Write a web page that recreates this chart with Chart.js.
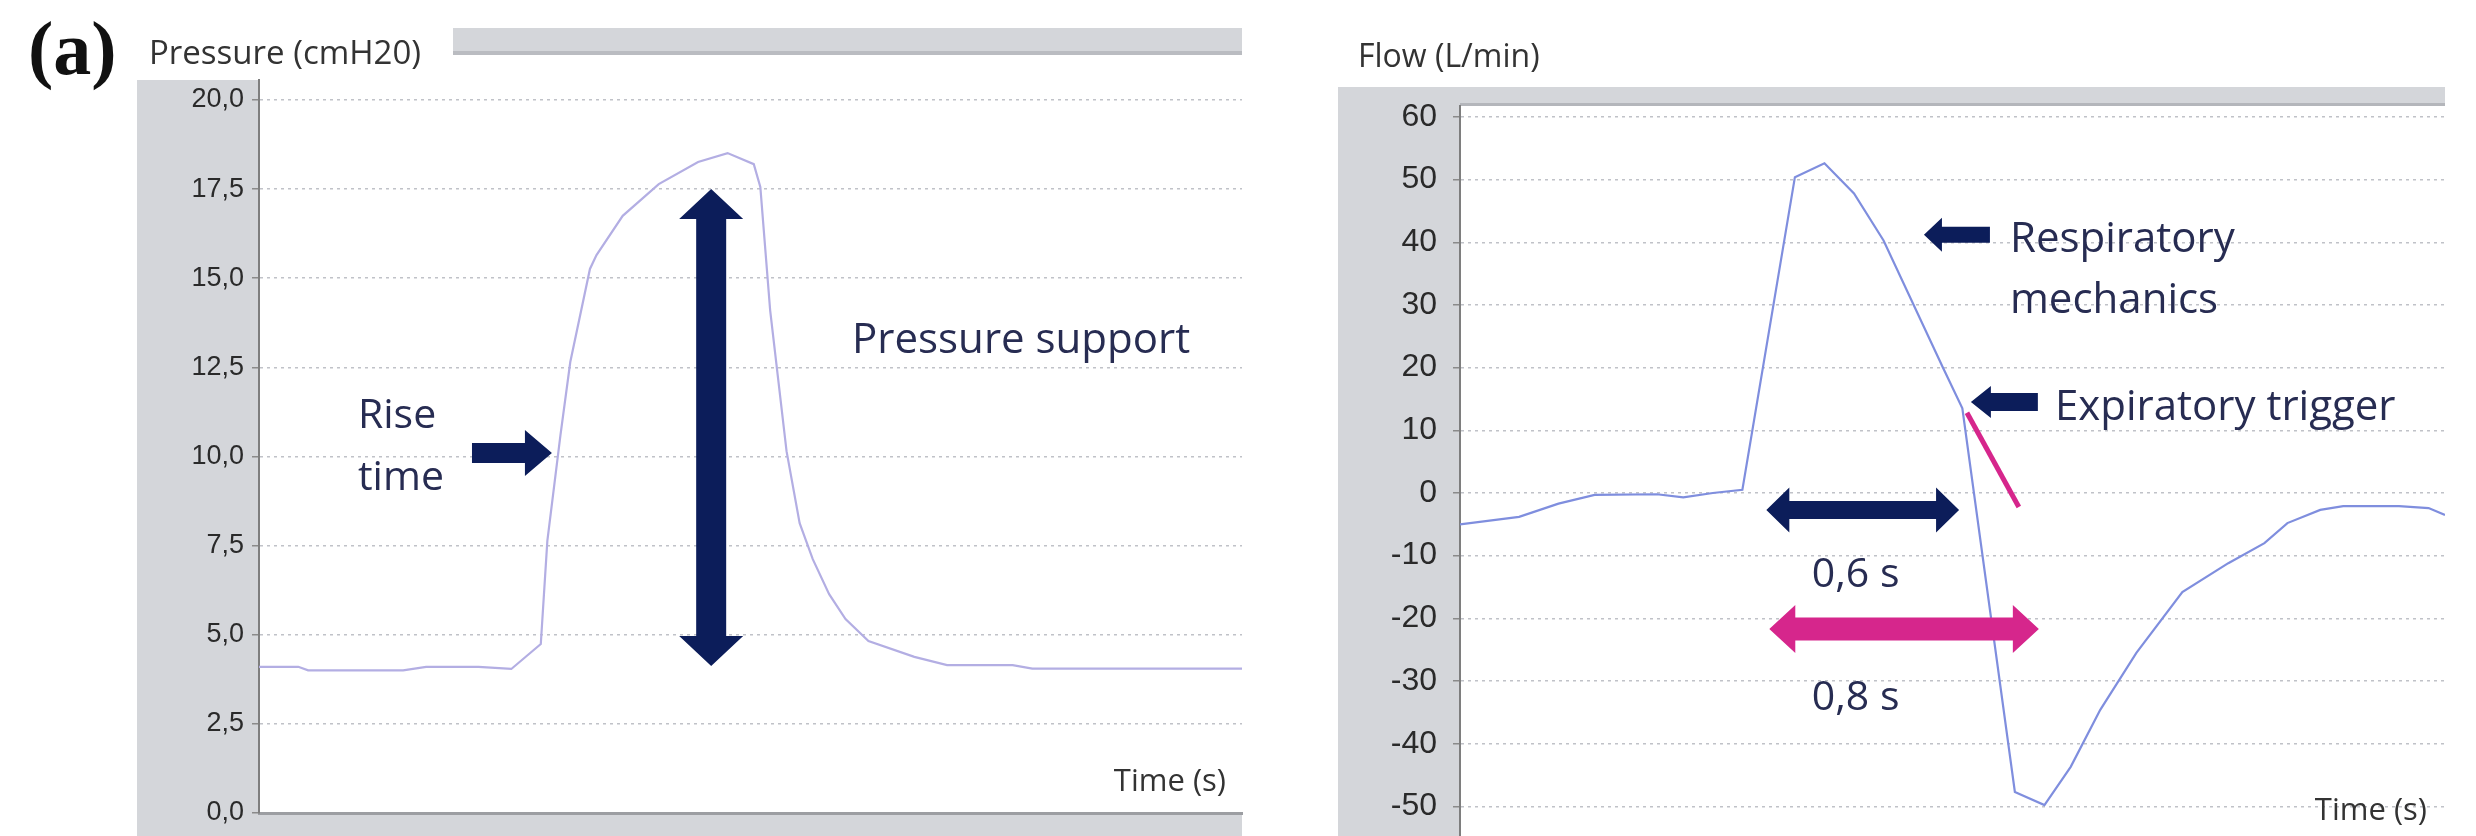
<!DOCTYPE html>
<html>
<head>
<meta charset="utf-8">
<title>Pressure and flow waveforms</title>
<script src="https://cdn.jsdelivr.net/npm/chart.js@4.4.1/dist/chart.umd.min.js"></script>
<style>
  html, body { margin: 0; padding: 0; background: #fff; overflow: hidden; }
  #page { position: relative; width: 2476px; height: 836px; }
  canvas { position: absolute; top: 0; }
  #pressureChart { left: 0; }
  #flowChart { left: 1260px; }
</style>
</head>
<body>
<div id="page">
  <canvas id="pressureChart" width="1260" height="836"></canvas>
  <canvas id="flowChart" width="1216" height="836"></canvas>
</div>
<script>
// pressure trace, time in s / cmH2O
const pressureTime = [0, 0.12, 0.15, 0.44, 0.51, 0.67, 0.77, 0.86, 0.88, 0.92, 0.95, 1.01, 1.03, 1.11, 1.22, 1.34, 1.43,
  1.51, 1.53, 1.56, 1.61, 1.65, 1.69, 1.74, 1.79, 1.86, 2.00, 2.10, 2.30, 2.36, 3.0];
const pressureValue = [4.1, 4.1, 4.0, 4.0, 4.1, 4.1, 4.04, 4.74, 7.63, 10.6, 12.65, 15.26, 15.65, 16.75, 17.64, 18.26, 18.51,
  18.2, 17.56, 14.1, 10.15, 8.13, 7.12, 6.14, 5.44, 4.82, 4.38, 4.15, 4.15, 4.05, 4.05];
const pressureTicks = [0, 2.5, 5, 7.5, 10, 12.5, 15, 17.5, 20];

// flow trace, time in s / L/min
const flowTime = [0, 0.18, 0.30, 0.41, 0.60, 0.68, 0.77, 0.86, 1.02, 1.11, 1.20, 1.29, 1.47, 1.53, 1.69, 1.78,
  1.86, 1.95, 2.06, 2.20, 2.34, 2.45, 2.52, 2.62, 2.69, 2.86, 2.95, 3.0];
const flowValue = [-5.0, -3.8, -1.7, -0.3, -0.2, -0.7, 0.0, 0.5, 50.4, 52.6, 47.8, 40.3, 20.1, 13.5, -47.7, -49.8,
  -43.7, -34.6, -25.5, -15.8, -11.2, -8.0, -4.8, -2.7, -2.1, -2.1, -2.4, -3.5];
const flowTicks = [-50, -40, -30, -20, -10, 0, 10, 20, 30, 40, 50, 60];

const GRAY = '#d4d6da';
const NAVY = '#0c1d5a';
const MAGENTA = '#d6268c';
const INK = '#272c52';
const SANS = '"Open Sans", sans-serif';

// annotations, placed in data units
const pressureNotes = [
  { kind: 'arrow', from: [1.38, 4.12], to: [1.38, 17.5], both: true, shaft: 30, head: 64, headLen: 30, color: NAVY },
  { kind: 'arrow', from: [0.65, 10.1], to: [0.894, 10.1], shaft: 20, head: 46, headLen: 27, color: NAVY },
  { kind: 'text', at: [0.302, 10.8], text: 'Rise' },
  { kind: 'text', at: [0.302, 9.06], text: 'time' },
  { kind: 'text', at: [1.81, 12.9], text: 'Pressure support', size: 42 },
  { kind: 'text', at: [2.951, 0.62], text: 'Time (s)', align: 'right', size: 31, color: '#333' }
];

const flowNotes = [
  { kind: 'arrow', from: [1.614, 41.2], to: [1.413, 41.2], shaft: 16, head: 34, headLen: 18, color: NAVY },
  { kind: 'text', at: [1.675, 38.5], text: 'Respiratory', size: 42 },
  { kind: 'text', at: [1.675, 28.75], text: 'mechanics', size: 42 },
  { kind: 'arrow', from: [1.760, 14.5], to: [1.556, 14.5], shaft: 18, head: 32, headLen: 20, color: NAVY },
  { kind: 'text', at: [1.812, 11.66], text: 'Expiratory trigger', size: 42 },
  { kind: 'line', from: [1.544, 12.8], to: [1.702, -2.24], width: 5, color: MAGENTA },
  { kind: 'arrow', from: [0.933, -2.7], to: [1.520, -2.7], both: true, shaft: 18, head: 45, headLen: 23, color: NAVY },
  { kind: 'text', at: [1.205, -15.0], text: '0,6 s', align: 'center' },
  { kind: 'arrow', from: [0.942, -21.7], to: [1.763, -21.7], both: true, shaft: 23, head: 48, headLen: 26, color: MAGENTA },
  { kind: 'text', at: [1.205, -34.7], text: '0,8 s', align: 'center' },
  { kind: 'text', at: [2.945, -52.2], text: 'Time (s)', align: 'right', size: 31, color: '#333' }
];

function drawArrow(ctx, x1, y1, x2, y2, n) {
  const len = Math.hypot(x2 - x1, y2 - y1);
  const ux = (x2 - x1) / len, uy = (y2 - y1) / len;
  const px = -uy, py = ux;
  const s = n.shaft / 2, h = n.head / 2, L = n.headLen;
  let pts = n.both
    ? [[0, 0], [L, h], [L, s], [len - L, s], [len - L, h], [len, 0], [len - L, -h], [len - L, -s], [L, -s], [L, -h]]
    : [[0, s], [len - L, s], [len - L, h], [len, 0], [len - L, -h], [len - L, -s], [0, -s]];
  ctx.beginPath();
  pts.forEach(([a, b], i) => {
    const x = x1 + ux * a + px * b, y = y1 + uy * a + py * b;
    if (i) ctx.lineTo(x, y); else ctx.moveTo(x, y);
  });
  ctx.closePath();
  ctx.fillStyle = n.color;
  ctx.fill();
}

function panelPlugin(decorate, notes) {
  return {
    id: 'panel',
    beforeDraw(chart) {
      const ctx = chart.ctx;
      ctx.save();
      decorate(chart, ctx);
      ctx.restore();
    },
    afterDatasetsDraw(chart) {
      const { ctx, scales: { x, y } } = chart;
      ctx.save();
      notes.forEach(n => {
        if (n.kind === 'arrow') {
          drawArrow(ctx, x.getPixelForValue(n.from[0]), y.getPixelForValue(n.from[1]),
            x.getPixelForValue(n.to[0]), y.getPixelForValue(n.to[1]), n);
        } else if (n.kind === 'line') {
          ctx.strokeStyle = n.color;
          ctx.lineWidth = n.width;
          ctx.beginPath();
          ctx.moveTo(x.getPixelForValue(n.from[0]), y.getPixelForValue(n.from[1]));
          ctx.lineTo(x.getPixelForValue(n.to[0]), y.getPixelForValue(n.to[1]));
          ctx.stroke();
        } else {
          ctx.font = (n.size || 41) + 'px ' + SANS;
          ctx.fillStyle = n.color || INK;
          ctx.textAlign = n.align || 'left';
          ctx.textBaseline = 'alphabetic';
          ctx.fillText(n.text, x.getPixelForValue(n.at[0]), y.getPixelForValue(n.at[1]));
        }
      });
      ctx.restore();
    }
  };
}

function yScale(ticks, min, max, label, fontSize, pad) {
  return {
    min: min,
    max: max,
    afterBuildTicks: s => { s.ticks = ticks.map(v => ({ value: v })); },
    afterFit: s => { s.width = 122; s.paddingTop = 0; s.paddingBottom = 0; },
    ticks: { callback: label, color: '#2a2a2a', padding: pad, font: { family: 'Liberation Sans', size: fontSize } },
    grid: { color: '#c0c2c8', lineWidth: 1.5, tickLength: 7, tickColor: '#8a8a8a', tickWidth: 1.5, tickBorderDash: [] },
    border: { color: '#7e7e7e', width: 2, dash: [3, 4] }
  };
}

const baseOptions = {
  responsive: false,
  animation: false,
  devicePixelRatio: 1,
  plugins: { legend: { display: false }, tooltip: { enabled: false } }
};

new Chart(document.getElementById('pressureChart'), {
  type: 'line',
  data: {
    datasets: [{
      data: pressureTime.map((t, i) => ({ x: t, y: pressureValue[i] })),
      borderColor: '#b3aee3',
      borderWidth: 2.2,
      pointRadius: 0,
      tension: 0
    }]
  },
  options: {
    ...baseOptions,
    layout: { padding: { left: 137, right: 18, top: 80, bottom: 23 } },
    scales: {
      x: {
        type: 'linear', min: 0, max: 3,
        ticks: { display: false },
        grid: { display: false, drawTicks: false },
        border: { display: true, color: '#9c9ea2', width: 3 },
        afterFit: s => { s.height = 0; }
      },
      y: yScale(pressureTicks, 0, 20.56, v => v.toFixed(1).replace('.', ','), 27, 8)
    }
  },
  plugins: [panelPlugin((chart, ctx) => {
    const a = chart.chartArea, ys = chart.scales.y;
    ctx.fillStyle = GRAY;
    ctx.fillRect(ys.left, a.top, ys.width, chart.height - a.top);
    ctx.fillRect(ys.left, a.bottom, a.right - ys.left, chart.height - a.bottom);
    ctx.fillRect(453, 28, a.right - 453, 26);
    ctx.fillStyle = '#babcc1';
    ctx.fillRect(453, 51, a.right - 453, 4);
    ctx.fillStyle = '#111';
    ctx.font = 'bold 76px "Liberation Serif", serif';
    ctx.fillText('(a)', 28, 74);
    ctx.fillStyle = '#333';
    ctx.font = '33px ' + SANS;
    ctx.fillText('Pressure (cmH20)', 149, 64);
  }, pressureNotes)]
});

new Chart(document.getElementById('flowChart'), {
  type: 'line',
  data: {
    datasets: [{
      data: flowTime.map((t, i) => ({ x: t, y: flowValue[i] })),
      borderColor: '#7f8ede',
      borderWidth: 2.2,
      pointRadius: 0,
      tension: 0
    }]
  },
  options: {
    ...baseOptions,
    layout: { padding: { left: 78, right: 31, top: 106, bottom: 0 } },
    scales: {
      x: { type: 'linear', min: 0, max: 3, display: false },
      y: yScale(flowTicks, -54.73, 61.75, v => String(v), 32, 16)
    }
  },
  plugins: [panelPlugin((chart, ctx) => {
    const a = chart.chartArea, ys = chart.scales.y;
    ctx.fillStyle = GRAY;
    ctx.fillRect(ys.left, a.top - 19, ys.width, chart.height - a.top + 19);
    ctx.fillRect(ys.left, a.top - 19, a.right - ys.left, 19);
    ctx.fillStyle = '#b4b6bb';
    ctx.fillRect(a.left, a.top - 3, a.right - a.left, 3);
    ctx.fillStyle = '#333';
    ctx.font = '32px ' + SANS;
    ctx.fillText('Flow (L/min)', 98, 67);
  }, flowNotes)]
});
</script>
</body>
</html>
